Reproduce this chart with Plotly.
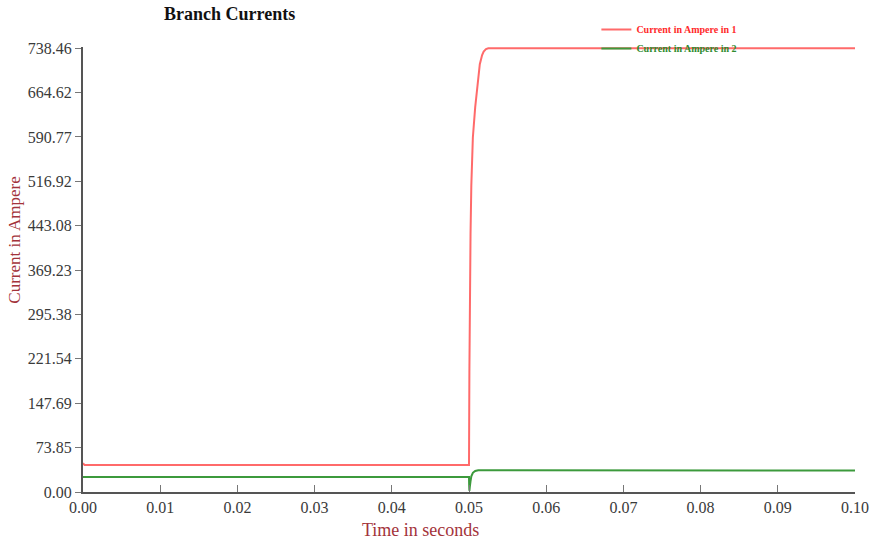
import plotly.graph_objects as go

# Data
time_red = [0.0, 0.0002, 0.0499, 0.05, 0.05005, 0.0501, 0.0502, 0.0503, 0.0505, 0.0508,
            0.0510, 0.0512, 0.0514, 0.0517, 0.0519, 0.0522, 0.0525, 0.06, 0.08, 0.10]
current_1 = [48.0, 44.8, 44.8, 44.8, 200.0, 320.0, 430.0, 510.0, 590.0, 640.0,
             667.0, 692.0, 712.0, 727.0, 733.0, 737.0, 738.46, 738.46, 738.46, 738.46]

time_green = [0.0, 0.0499, 0.05, 0.05002, 0.05005, 0.0501, 0.0502, 0.0503, 0.0505, 0.0508,
              0.0512, 0.06, 0.08, 0.10]
current_2 = [24.9, 24.9, 24.9, 12.0, 2.0, 8.0, 18.0, 26.0, 32.0, 35.0,
             36.3, 36.3, 36.0, 35.6]

y_ticks = [0.00, 73.85, 147.69, 221.54, 295.38, 369.23, 443.08, 516.92, 590.77, 664.62, 738.46]
x_ticks = [0.00, 0.01, 0.02, 0.03, 0.04, 0.05, 0.06, 0.07, 0.08, 0.09, 0.10]

SERIF = "Liberation Serif, Times New Roman, serif"
AXIS_TITLE_COLOR = "#a3333a"
RED = "rgba(255,80,80,0.85)"
GREEN = "#3c9a3c"

fig = go.Figure()
fig.add_trace(go.Scatter(
    x=time_red, y=current_1, mode="lines",
    name="<b><span style='color:#ff2a2a'>Current in Ampere in 1</span></b>",
    line=dict(color=RED, width=2),
))
fig.add_trace(go.Scatter(
    x=time_green, y=current_2, mode="lines",
    name="<b><span style='color:#2e8b2e'>Current in Ampere in 2</span></b>",
    line=dict(color=GREEN, width=2),
))

fig.update_layout(
    width=878, height=546,
    margin=dict(l=83, r=23, t=47, b=54, autoexpand=False),
    paper_bgcolor="white", plot_bgcolor="white",
    font=dict(family=SERIF, color="#333333", size=13),
    showlegend=True,
    legend=dict(
        x=0.665, y=1.072, xanchor="left", yanchor="top",
        bgcolor="rgba(0,0,0,0)",
        font=dict(family=SERIF, size=10),
        itemwidth=30, tracegroupgap=0,
    ),
)

fig.update_xaxes(
    range=[0, 0.1], tickvals=x_ticks, ticktext=[f"{v:.2f}" for v in x_ticks],
    showgrid=False, zeroline=False, showline=True, linecolor="#555555", linewidth=2,
    ticks="inside", ticklen=7, tickcolor="#777777", tickwidth=1,
    tickfont=dict(family=SERIF, size=16, color="#3a3a3a"),
    automargin=False,
)
fig.update_yaxes(
    range=[0, 740.5], tickvals=y_ticks, ticktext=[f"{v:.2f}" for v in y_ticks],
    showgrid=False, zeroline=False, showline=True, linecolor="#555555", linewidth=2,
    ticks="outside", ticklen=6, tickcolor="#777777", tickwidth=1,
    tickfont=dict(family=SERIF, size=16, color="#3a3a3a"),
    automargin=False,
)

annotations = [
    dict(text="<b>Branch Currents</b>", xref="paper", yref="paper",
         x=0.19, y=1.074, xanchor="center", yanchor="middle", showarrow=False,
         font=dict(family=SERIF, size=18, color="#111111")),
    dict(text="Time in seconds", xref="paper", yref="paper",
         x=0.437, y=-0.085, xanchor="center", yanchor="middle", showarrow=False,
         font=dict(family=SERIF, size=18, color=AXIS_TITLE_COLOR)),
    dict(text="Current in Ampere", xref="paper", yref="paper",
         x=-0.088, y=0.565, xanchor="center", yanchor="middle", showarrow=False,
         textangle=-90,
         font=dict(family=SERIF, size=17, color=AXIS_TITLE_COLOR)),
]
fig.update_layout(annotations=annotations)

# remove the default page margin so the figure sits at the window's corner
fig.write_html("out.html", config={"displayModeBar": False},
               post_script="document.body.style.margin='0';")
